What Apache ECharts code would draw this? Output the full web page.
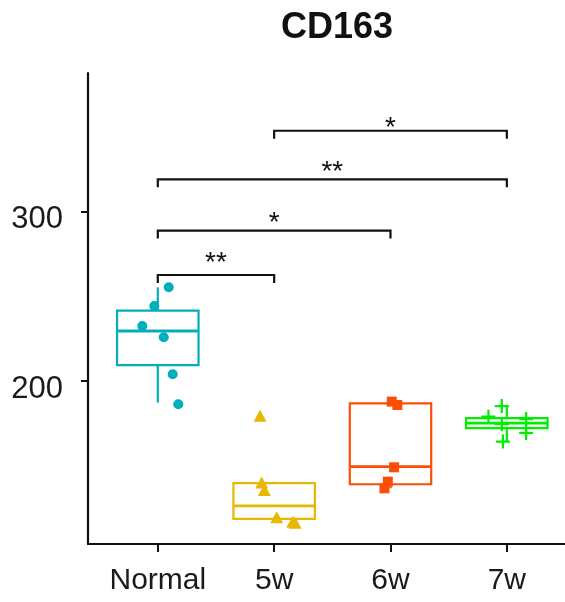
<!DOCTYPE html>
<html>
<head>
<meta charset="utf-8">
<script src="https://cdn.jsdelivr.net/npm/echarts@6/dist/echarts.min.js"></script>
<style>html,body{margin:0;padding:0;background:#fff;}#chart{width:565px;height:602px;}</style>
</head>
<body>
<div id="chart"></div>
<script>
// ---------- data ----------
const title = 'CD163';
const categories = ['Normal', '5w', '6w', '7w'];
const yTicks = [200, 300];

// individual observations per group
const normalValues = [255.3, 244.3, 232.5, 225.8, 204.0, 186.2];
const w5Values     = [179.5, 140.0, 135.6, 119.5, 116.3, 116.8];
const w6Values     = [187.8, 185.8, 149.0, 140.5, 136.6];
const w7Values     = [185.2, 178.9, 177.5, 174.5, 169.3, 164.2];

// horizontal jitter of each observation (category units)
const normalJitter = [0.094, -0.030, -0.133, 0.051, 0.128, 0.176];
const w5Jitter     = [-0.121, -0.107, -0.084, 0.022, 0.180, 0.160];
const w6Jitter     = [0.011, 0.059, 0.031, -0.023, -0.052];
const w7Jitter     = [-0.043, -0.158, 0.166, -0.043, 0.166, -0.034];

// box statistics: [lower whisker, Q1, median, Q3, upper whisker]
const normalBox = [187.2, 209.4, 229.5, 241.5, 255.3];
const w5Box     = [116.3, 118.5, 126.2, 139.6, 140.5];
const w6Box     = [136.6, 139.0, 149.4, 186.8, 187.8];
const w7Box     = [164.2, 172.1, 175.1, 178.1, 185.2];

// significance brackets
const bracketFrom   = [1, 1, 1, 2];
const bracketTo     = [2, 3, 4, 4];
const bracketLevel  = [262.6, 288.8, 319.1, 347.8];
const bracketLabelY = [273.3, 296.7, 326.9, 352.9];
const bracketLabels = ['**', '*', '**', '*'];

// ---------- styling ----------
const colors = ['#00AFBB', '#E7B800', '#FC4E07', '#00EE00'];
const plusPath = 'path://M8.4,0h3.2v20h-3.2z M0,8.4h20v3.2h-20z';
const symbols = ['circle', 'triangle', 'rect', plusPath];
const symbolSizes = [10, [13, 12], 10, 14];
const BOX_WIDTH = 0.7;
const LEG_PX = 8;
const FONT = "'Liberation Sans', Arial, Helvetica, sans-serif";

const groupValues = [normalValues, w5Values, w6Values, w7Values];
const groupJitter = [normalJitter, w5Jitter, w6Jitter, w7Jitter];
const groupBoxes = [normalBox, w5Box, w6Box, w7Box];

const boxData = groupBoxes.map((b, i) => [i + 1].concat(b));
const bracketData = bracketFrom.map((f, i) => [f, bracketTo[i], bracketLevel[i], bracketLabelY[i]]);

function renderBox(params, api) {
  const x = api.value(0);
  const pLow = api.coord([x, api.value(1)]);
  const pQ1 = api.coord([x, api.value(2)]);
  const pMed = api.coord([x, api.value(3)]);
  const pQ3 = api.coord([x, api.value(4)]);
  const pHigh = api.coord([x, api.value(5)]);
  const half = api.size([BOX_WIDTH, 0])[0] / 2;
  const color = colors[params.dataIndex];
  const st = { stroke: color, lineWidth: 2.2, fill: null };
  return {
    type: 'group',
    children: [
      { type: 'line', shape: { x1: pLow[0], y1: pLow[1], x2: pQ1[0], y2: pQ1[1] }, style: st },
      { type: 'line', shape: { x1: pQ3[0], y1: pQ3[1], x2: pHigh[0], y2: pHigh[1] }, style: st },
      { type: 'rect', shape: { x: pQ3[0] - half, y: pQ3[1], width: 2 * half, height: pQ1[1] - pQ3[1] }, style: st },
      { type: 'line', shape: { x1: pMed[0] - half, y1: pMed[1], x2: pMed[0] + half, y2: pMed[1] }, style: { stroke: color, lineWidth: 2.8 } }
    ]
  };
}

function renderBracket(params, api) {
  const a = api.coord([api.value(0), api.value(2)]);
  const b = api.coord([api.value(1), api.value(2)]);
  const t = api.coord([(api.value(0) + api.value(1)) / 2, api.value(3)]);
  return {
    type: 'group',
    children: [
      { type: 'polyline', shape: { points: [[a[0], a[1] + LEG_PX], [a[0], a[1]], [b[0], b[1]], [b[0], b[1] + LEG_PX]] },
        style: { stroke: '#111', lineWidth: 2.2, fill: null } },
      { type: 'text', x: t[0], y: t[1] + 6.3,
        style: { text: bracketLabels[params.dataIndex], fontSize: 28, fontFamily: FONT, fill: '#111', align: 'center', verticalAlign: 'middle' } }
    ]
  };
}

const scatterSeries = groupValues.map((vals, g) => ({
  type: 'scatter',
  name: categories[g],
  data: vals.map((v, i) => [g + 1 + groupJitter[g][i], v]),
  symbol: symbols[g],
  symbolSize: symbolSizes[g],
  itemStyle: { color: colors[g], opacity: 1 },
  z: 5,
  silent: true
}));

const chart = echarts.init(document.getElementById('chart'), null, { renderer: 'canvas' });
chart.setOption({
  animation: false,
  backgroundColor: '#fff',
  title: {
    text: title,
    left: 337,
    top: 10,
    padding: 0,
    textAlign: 'center',
    textStyle: { fontSize: 36, fontWeight: 'bold', color: '#111', fontFamily: FONT }
  },
  grid: { left: 88, right: 0, top: 73, bottom: 58, containLabel: false },
  xAxis: {
    type: 'value',
    min: 0.4,
    max: 4.5,
    splitLine: { show: false },
    axisLine: { show: true, onZero: false, lineStyle: { color: '#111', width: 2.2 } },
    axisTick: { show: true, customValues: [1, 2, 3, 4], length: 8, lineStyle: { color: '#111', width: 2 } },
    axisLabel: {
      customValues: [1, 2, 3, 4],
      formatter: v => categories[Math.round(v) - 1],
      fontSize: 30, color: '#1a1a1a', margin: 22, fontFamily: FONT
    }
  },
  yAxis: {
    type: 'value',
    min: 103.7,
    max: 381.9,
    splitLine: { show: false },
    axisLine: { show: true, onZero: false, lineStyle: { color: '#111', width: 2.2 } },
    axisTick: { show: true, customValues: yTicks, length: 7, lineStyle: { color: '#111', width: 2 } },
    axisLabel: {
      customValues: yTicks,
      fontSize: 31, color: '#1a1a1a', margin: 25, fontFamily: FONT,
      verticalAlign: 'top', lineHeight: 16
    }
  },
  series: [
    {
      type: 'custom',
      renderItem: renderBox,
      data: boxData,
      encode: { x: 0, y: [1, 2, 3, 4, 5] },
      z: 3,
      silent: true
    },
    ...scatterSeries,
    {
      type: 'custom',
      renderItem: renderBracket,
      data: bracketData,
      encode: { x: [0, 1], y: [2, 3] },
      z: 4,
      silent: true
    }
  ]
});
</script>
</body>
</html>
